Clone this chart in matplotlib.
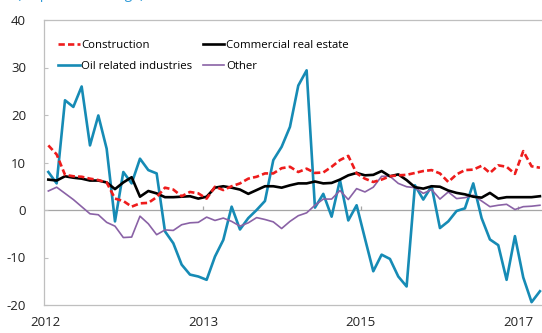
import matplotlib
matplotlib.use("Agg")
import matplotlib.pyplot as plt
import numpy as np

plt.rcParams['font.family'] = ['Open Sans', 'DejaVu Sans']
plt.rcParams['axes.unicode_minus'] = False

# monthly growth rates by sector
construction = [13.6, 11.7, 7.4, 7.1, 7.0, 6.6, 6.3, 5.8, 2.4, 1.9,
                0.7, 1.4, 1.5, 2.7, 4.7, 4.3, 2.9, 3.8, 3.5, 2.4,
                4.9, 4.2, 5.0, 5.6, 6.6, 7.0, 7.7, 7.7, 8.8, 9.1,
                8.0, 8.7, 7.8, 7.9, 9.1, 10.5, 11.4, 7.7, 6.6, 5.9,
                6.4, 7.1, 7.3, 7.4, 7.8, 8.2, 8.4, 7.7, 5.9, 7.5,
                8.4, 8.5, 9.3, 7.8, 9.4, 9.1, 7.6, 12.4, 9.2, 8.9]
commercial_re = [6.4, 6.2, 7.1, 6.8, 6.6, 6.2, 6.2, 5.8, 4.4, 5.8,
                 6.9, 2.8, 4.0, 3.5, 2.7, 2.7, 2.8, 2.9, 2.4, 2.8,
                 4.7, 5.0, 4.7, 4.3, 3.4, 4.2, 5.0, 5.0, 4.7, 5.2,
                 5.6, 5.6, 6.0, 5.6, 5.7, 6.4, 7.3, 7.8, 7.3, 7.4,
                 8.2, 7.1, 7.5, 6.3, 4.8, 4.5, 5.0, 4.9, 4.1, 3.6,
                 3.3, 2.8, 2.6, 3.6, 2.4, 2.7, 2.7, 2.7, 2.7, 2.9]
oil_related = [8.0, 5.6, 23.1, 21.7, 26.0, 13.6, 19.9, 12.9, -2.4, 8.0,
               5.6, 10.8, 8.4, 7.7, -4.5, -7.0, -11.5, -13.6, -14.0, -14.7,
               -9.8, -6.3, 0.7, -4.1, -1.7, 0.0, 1.9, 10.5, 13.3, 17.5,
               26.2, 29.4, 0.5, 3.4, -1.4, 6.3, -2.2, 1.0, -6.0, -12.9,
               -9.4, -10.3, -14.0, -16.1, 5.2, 2.2, 5.0, -3.8, -2.4, -0.2,
               0.35, 5.6, -1.7, -6.2, -7.4, -14.7, -5.5, -14.2, -19.4, -17.1]
other = [4.0, 4.8, 3.5, 2.2, 0.7, -0.8, -1.0, -2.6, -3.4, -5.8,
         -5.7, -1.3, -2.9, -5.2, -4.2, -4.3, -3.1, -2.7, -2.6, -1.5,
         -2.2, -1.7, -2.4, -3.4, -2.7, -1.6, -2.0, -2.5, -3.9, -2.4,
         -1.2, -0.6, 1.0, 2.3, 2.3, 4.1, 2.2, 4.5, 3.8, 4.8,
         7.1, 7.1, 5.6, 4.9, 4.7, 3.5, 4.3, 2.3, 3.8, 2.4,
         2.6, 3.1, 1.9, 0.7, 1.0, 1.2, 0.1, 0.7, 0.8, 1.0]

year_labels = ['2012', '2013', '2015', '2017']
year_pos = [-0.4, 18.6, 37.5, 56.4]

x = np.arange(len(oil_related))

fig = plt.figure(figsize=(5.42, 3.33), dpi=100)
ax = fig.add_axes([44/542, 1 - 305/333, 1 - 44/542, 285/333])

ax.axhline(0, color='#A6A6A6', lw=0.9, zorder=1)
ax.vlines(year_pos[1:], 0, 0.9, color='#A6A6A6', lw=0.9, zorder=1)

ax.plot(x, construction, color='#EE1C1C', lw=1.9, dashes=(2.4, 1.2),
        label='Construction', zorder=4)
ax.plot(x, oil_related, color='#168BB5', lw=1.9,
        label='Oil related industries', zorder=2)
ax.plot(x, commercial_re, color='black', lw=1.9,
        label='Commercial real estate', zorder=3)
ax.plot(x, other, color='#8A62A6', lw=1.2, label='Other', zorder=2)

ax.set_xlim(-0.52, 59.25)
ax.set_ylim(-20, 40)
ax.set_yticks(range(-20, 41, 10))
ax.set_xticks(year_pos)
ax.set_xticklabels(year_labels)

for side in ['left', 'top', 'bottom']:
    ax.spines[side].set_color('#BFBFBF')
    ax.spines[side].set_linewidth(0.9)
ax.spines['right'].set_visible(False)

ax.tick_params(axis='y', direction='in', length=3, color='#BFBFBF',
               pad=13, labelsize=9.5, labelcolor='#222222')
ax.tick_params(axis='x', length=0, pad=8, labelsize=9.5, labelcolor='#222222')

ax.legend(loc='upper left', bbox_to_anchor=(0.028, 0.93), ncol=2,
          frameon=False, fontsize=8.2, handlelength=1.9, handletextpad=0.15,
          columnspacing=0.9, labelspacing=0.85, borderpad=0, borderaxespad=0)

# axis unit note, sitting mostly above the top edge
fig.text(17/542, 1 + 1.5/333, '(%, percent change)', color='#2F9BD8',
         fontsize=10, va='baseline', ha='left')

fig.savefig('out.png', dpi=100)
